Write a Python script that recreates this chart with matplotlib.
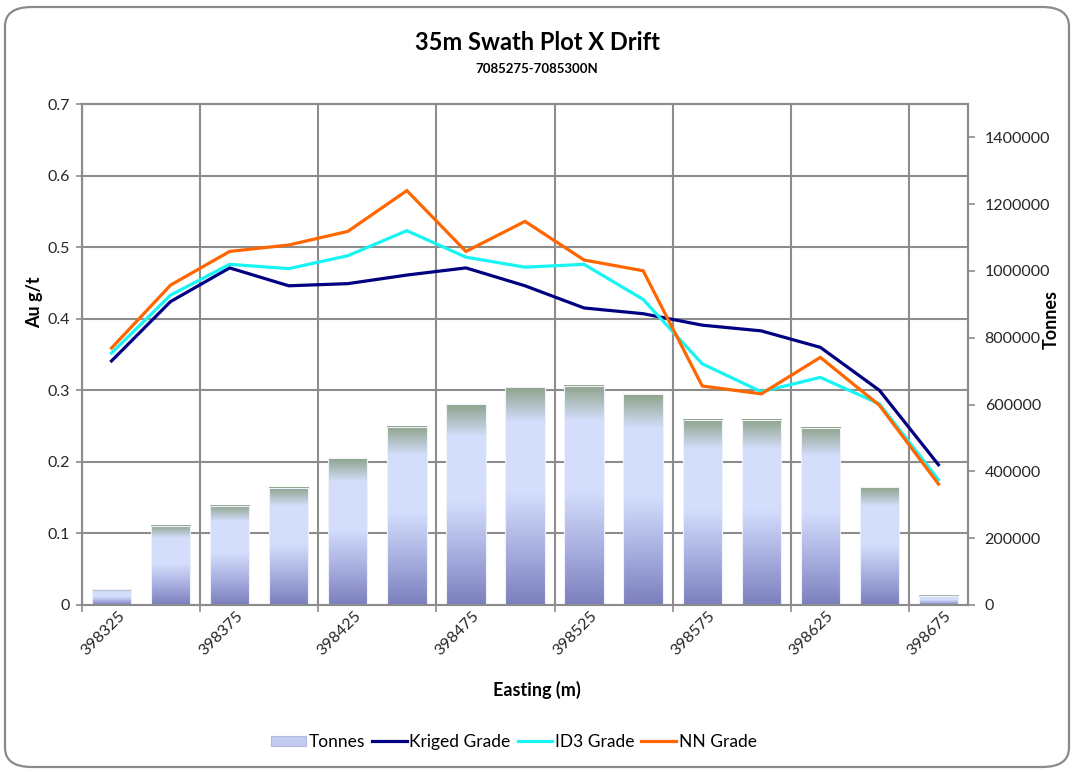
import numpy as np
import matplotlib.pyplot as plt
from matplotlib.colors import LinearSegmentedColormap
from matplotlib.patches import FancyBboxPatch, Patch
from matplotlib.lines import Line2D
from matplotlib.ticker import FixedLocator, FuncFormatter

plt.rcParams['font.family'] = ['Lato', 'DejaVu Sans']

# swath centres (easting, m)
easting = [398325, 398350, 398375, 398400, 398425, 398450, 398475, 398500,
           398525, 398550, 398575, 398600, 398625, 398650, 398675]

tonnes = [47000, 237000, 297000, 351000, 439000, 534000, 601000, 652000,
          656000, 631000, 555000, 555000, 531000, 353000, 27000]

kriged = [0.341, 0.424, 0.471, 0.446, 0.449, 0.461, 0.471, 0.446,
          0.415, 0.407, 0.391, 0.383, 0.360, 0.300, 0.196]
id3 = [0.352, 0.433, 0.476, 0.470, 0.488, 0.523, 0.486, 0.472,
       0.476, 0.427, 0.337, 0.298, 0.318, 0.281, 0.175]
nn = [0.359, 0.447, 0.494, 0.503, 0.522, 0.579, 0.494, 0.536,
      0.482, 0.467, 0.306, 0.295, 0.346, 0.279, 0.169]

grade_ticks = [0, 0.1, 0.2, 0.3, 0.4, 0.5, 0.6, 0.7]
tonne_ticks = [0, 200000, 400000, 600000, 800000, 1000000, 1200000, 1400000]
GRADE_MAX = 0.7
TONNE_MAX = 1500000

grid_col = '#8c8c8c'
text_col = '#262626'

fig = plt.figure(figsize=(10.75, 7.72), dpi=100)

# rounded chart frame
frame = FancyBboxPatch((5 / 1075, 5 / 772), 1064 / 1075, 760 / 772,
                       boxstyle='round,pad=0,rounding_size=0.025',
                       transform=fig.transFigure, facecolor='none',
                       edgecolor='#8a8a8a', linewidth=1.6, zorder=-1)
fig.patches.append(frame)

# tonnes axes underneath (carries grid + bars), grade axes on top (lines)
axb = fig.add_axes([82 / 1075, 1 - 605 / 772, 886 / 1075, 501 / 772])
axg = axb.twinx()
axb.patch.set_visible(False)

x = np.arange(len(easting))

# bars with vertical gradient fill
bar_cmap = LinearSegmentedColormap.from_list(
    'tonnes', [(0.0, '#7b7fbd'), (0.25, '#a7aedf'), (0.52, '#d4defc'),
               (0.84, '#d4defc'), (1.0, '#8ea38a')])
grad = np.linspace(0, 1, 256).reshape(-1, 1)
bars = axb.bar(x, tonnes, width=0.665, color='none', edgecolor='#eef1fb',
               linewidth=0.8, zorder=3)
for b in bars:
    axb.imshow(grad, cmap=bar_cmap, origin='lower', aspect='auto',
               extent=[b.get_x(), b.get_x() + b.get_width(), 0, b.get_height()],
               zorder=2, interpolation='bilinear')

axb.set_xlim(-0.5, len(easting) - 0.5)
axb.set_ylim(0, TONNE_MAX)
axb.set_axisbelow(True)

# x axis: tick marks between every second swath, labels on swath centres
axb.xaxis.set_major_locator(FixedLocator(np.arange(-0.5, len(easting) - 0.5, 2)))
axb.xaxis.set_major_formatter(FuncFormatter(lambda v, p: ''))
axb.xaxis.set_minor_locator(FixedLocator(x[::2] + 0.1))
axb.set_xticklabels([str(e) for e in easting[::2]], minor=True)
axb.tick_params(axis='x', which='major', direction='out', length=5,
                color=grid_col, width=1.2)
axb.tick_params(axis='x', which='minor', length=0, pad=3)
for lab in axb.get_xticklabels(minor=True):
    lab.set_rotation(45)
    lab.set_ha('right')
    lab.set_va('top')
    lab.set_rotation_mode('anchor')
    lab.set_fontsize(11.5)
    lab.set_color(text_col)

# right axis (tonnes)
axb.yaxis.tick_right()
axb.yaxis.set_label_position('right')
axb.set_yticks(tonne_ticks)
axb.yaxis.set_major_formatter(FuncFormatter(lambda v, p: '%d' % v))
axb.yaxis.set_minor_locator(FixedLocator([g / GRADE_MAX * TONNE_MAX for g in grade_ticks[1:-1]]))
axb.tick_params(axis='y', which='major', direction='out', length=5,
                color=grid_col, width=1.2, labelsize=11.5, labelcolor=text_col, pad=7)
axb.tick_params(axis='y', which='minor', length=0)

axb.grid(True, axis='x', which='major', color=grid_col, linewidth=1.5)
axb.grid(True, axis='y', which='minor', color=grid_col, linewidth=1.5)

axb.set_ylabel('Tonnes', fontsize=13, fontweight='bold', color='black')
axb.yaxis.set_label_coords(1.0847, 0.569)
axb.set_xlabel('Easting (m)', fontsize=13, fontweight='bold', color='black')
axb.xaxis.set_label_coords(0.5135, -0.152)

# grade lines
axg.plot(x, kriged, color='#000080', linewidth=2.3, label='Kriged Grade',
         solid_joinstyle='miter')
axg.plot(x, id3, color='#18f4f4', linewidth=2.3, label='ID3 Grade',
         solid_joinstyle='miter')
axg.plot(x, nn, color='#ff6600', linewidth=2.3, label='NN Grade',
         solid_joinstyle='miter')

axg.set_ylim(0, GRADE_MAX)
axg.yaxis.tick_left()
axg.yaxis.set_label_position('left')
axg.set_yticks(grade_ticks)
axg.yaxis.set_major_formatter(FuncFormatter(lambda v, p: '0' if v == 0 else '%.1f' % v))
axg.tick_params(axis='y', direction='out', length=4, color=grid_col, width=1.2,
                labelsize=11.5, labelcolor=text_col, pad=5)
axg.set_ylabel('Au g/t', fontsize=13, fontweight='bold', color='black')
axg.yaxis.set_label_coords(-0.044, 0.605)

for a in (axb, axg):
    for s in a.spines.values():
        s.set_color(grid_col)
        s.set_linewidth(1.5)

fig.text(537 / 1075, 1 - 43 / 772, '35m Swath Plot X Drift', ha='center',
         va='center', fontsize=17, fontweight='bold', color='black')
fig.text(537 / 1075, 1 - 69 / 772, '7085275-7085300N', ha='center',
         va='center', fontsize=9.5, fontweight='bold', color='black')

handles = [Patch(facecolor='#c4cbf0', edgecolor='#b0b8e4', linewidth=0.8),
           Line2D([], [], color='#000080', linewidth=2.3),
           Line2D([], [], color='#18f4f4', linewidth=2.3),
           Line2D([], [], color='#ff6600', linewidth=2.3)]
fig.legend(handles, ['Tonnes', 'Kriged Grade', 'ID3 Grade', 'NN Grade'],
           loc='center', bbox_to_anchor=(514 / 1075, 1 - 742 / 772), ncol=4,
           frameon=False, fontsize=12.5, handlelength=2.0, handletextpad=0.15,
           columnspacing=0.4, handleheight=0.5)

fig.savefig('out.png', dpi=100)
